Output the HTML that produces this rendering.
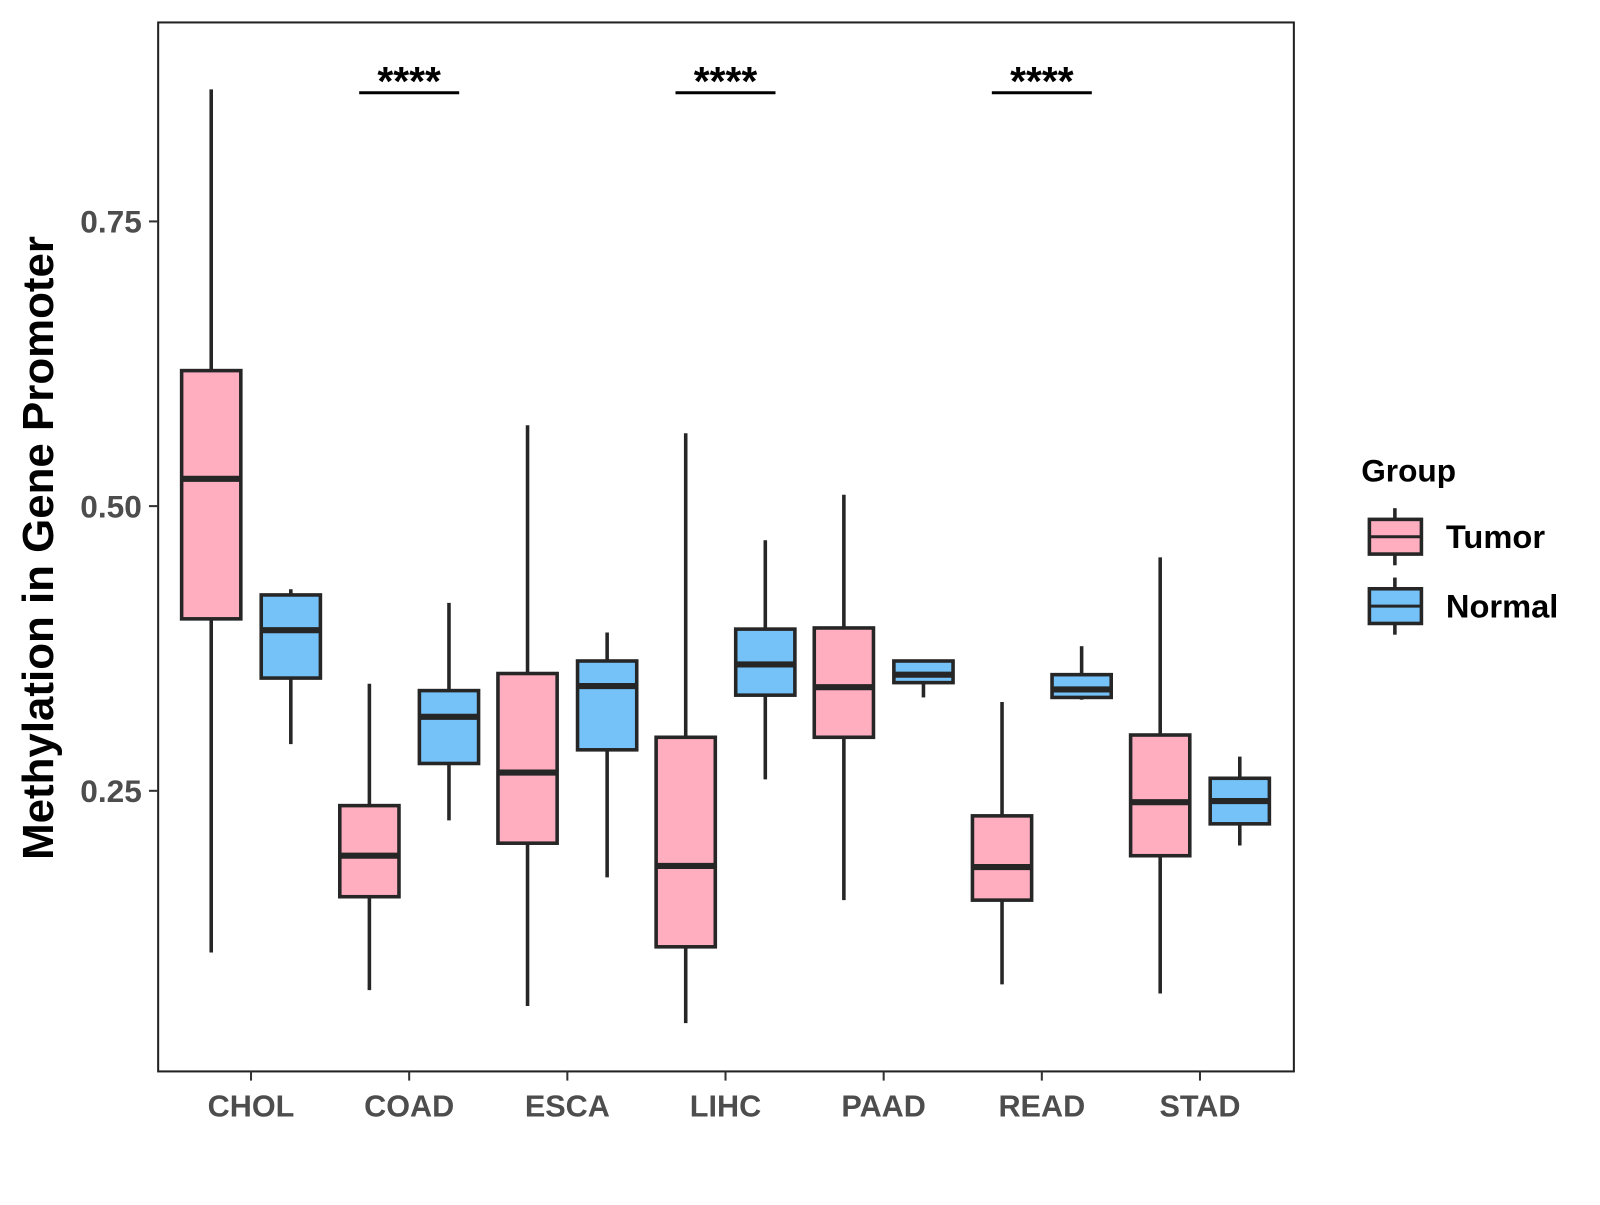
<!DOCTYPE html>
<html><head><meta charset="utf-8"><style>
body{margin:0;background:#fff;}
svg text{font-family:"Liberation Sans",Arial,sans-serif;font-weight:bold;}
</style></head><body>
<svg id="chart" width="1600" height="1200" xmlns="http://www.w3.org/2000/svg">
<rect x="0" y="0" width="1600" height="1200" fill="#fff"/>
<g id="plot" transform="scale(1.0204)"></g>
</svg>
<script>
const categories = ["CHOL","COAD","ESCA","LIHC","PAAD","READ","STAD"];
const groups = ["Tumor","Normal"];
// [low, q1, median, q3, high]
const tumorStats = [
 [0.108,0.401,0.524,0.619,0.866],
 [0.075,0.157,0.193,0.237,0.344],
 [0.061,0.204,0.266,0.353,0.571],
 [0.046,0.113,0.184,0.297,0.564],
 [0.154,0.297,0.341,0.393,0.510],
 [0.080,0.154,0.183,0.228,0.328],
 [0.072,0.193,0.240,0.299,0.455]
];
const normalStats = [
 [0.291,0.349,0.391,0.422,0.427],
 [0.224,0.274,0.315,0.338,0.415],
 [0.174,0.286,0.342,0.364,0.389],
 [0.260,0.334,0.361,0.392,0.470],
 [0.332,0.345,0.352,0.364,0.364],
 [0.330,0.332,0.339,0.352,0.377],
 [0.202,0.221,0.241,0.261,0.280]
];
const yTicks = [0.25,0.50,0.75];
const yTickLabels = ["0.25","0.50","0.75"];
const sigCategories = ["COAD","LIHC","READ"];
const sigLabels = ["****","****","****"];
const sigLevel = 0.863;

const NS="http://www.w3.org/2000/svg";
const g=document.getElementById('plot');
function el(t,a,txt){const e=document.createElementNS(NS,t);for(const k in a)e.setAttribute(k,a[k]);if(txt!==undefined)e.textContent=txt;g.appendChild(e);return e;}
const P={l:155,r:1268,t:22,b:1050};
function y(v){return 496-(v-0.5)*1116;}
function x(i){return 246+i*155;}
const colors={Tumor:"#FFAEC0",Normal:"#75C2F8"};
const off={Tumor:-39,Normal:39};
const bw=58;

let e=el('rect',{x:P.l,y:P.t,width:P.r-P.l,height:P.b-P.t,fill:'none',stroke:'#222','stroke-width':2});


yTicks.forEach((v,i)=>{
 let t=el('line',{x1:P.l-9,x2:P.l,y1:y(v),y2:y(v),stroke:'#333','stroke-width':2});
 
 let l=el('text',{x:P.l-16,y:y(v)+11,'text-anchor':'end','font-size':31,fill:'#4d4d4d'},yTickLabels[i]);
 
});
categories.forEach((c,i)=>{
 let t=el('line',{x1:x(i),x2:x(i),y1:P.b,y2:P.b+9,stroke:'#333','stroke-width':2});
 
 let l=el('text',{x:x(i),y:1094,'text-anchor':'middle','font-size':30,fill:'#4d4d4d'},c);
 
});

function box(cx,s,grp){
 let w=el('line',{x1:cx,x2:cx,y1:y(s[4]),y2:y(s[0]),stroke:'#262626','stroke-width':3.5});
 
 let r=el('rect',{x:cx-bw/2,y:y(s[3]),width:bw,height:y(s[1])-y(s[3]),fill:colors[grp],stroke:'#262626','stroke-width':3.5});
 
 let m=el('line',{x1:cx-bw/2,x2:cx+bw/2,y1:y(s[2]),y2:y(s[2]),stroke:'#262626','stroke-width':6});
 
}
categories.forEach((c,i)=>{
 box(x(i)+off.Tumor,tumorStats[i],'Tumor');
 box(x(i)+off.Normal,normalStats[i],'Normal');
});
sigCategories.forEach((c,k)=>{
 const i=categories.indexOf(c);
 let ln=el('line',{x1:x(i)-49,x2:x(i)+49,y1:y(sigLevel),y2:y(sigLevel),stroke:'#000','stroke-width':3});
 
 let st=el('text',{x:x(i),y:y(sigLevel)+2,'text-anchor':'middle','font-size':40,fill:'#000'},sigLabels[k]);
 
});

let yt=el('text',{x:0,y:0,transform:'translate(52,537) rotate(-90)','text-anchor':'middle','font-size':43,fill:'#000'},'Methylation in Gene Promoter');


let lt=el('text',{x:1334,y:472,'font-size':31,fill:'#000'},'Group');

groups.forEach((gname,k)=>{
 const cy=526+k*68, cx=1367;
 let w=el('line',{x1:cx,x2:cx,y1:cy-28,y2:cy+28,stroke:'#262626','stroke-width':3.5});
 
 let r=el('rect',{x:1342,y:cy-17,width:51,height:34,fill:colors[gname],stroke:'#262626','stroke-width':3.5});
 
 let m=el('line',{x1:1342,x2:1393,y1:cy,y2:cy,stroke:'#262626','stroke-width':3});
 
 let t=el('text',{x:1417,y:cy+11,'font-size':32,fill:'#000'},gname);
 
});
</script>
</body></html>
